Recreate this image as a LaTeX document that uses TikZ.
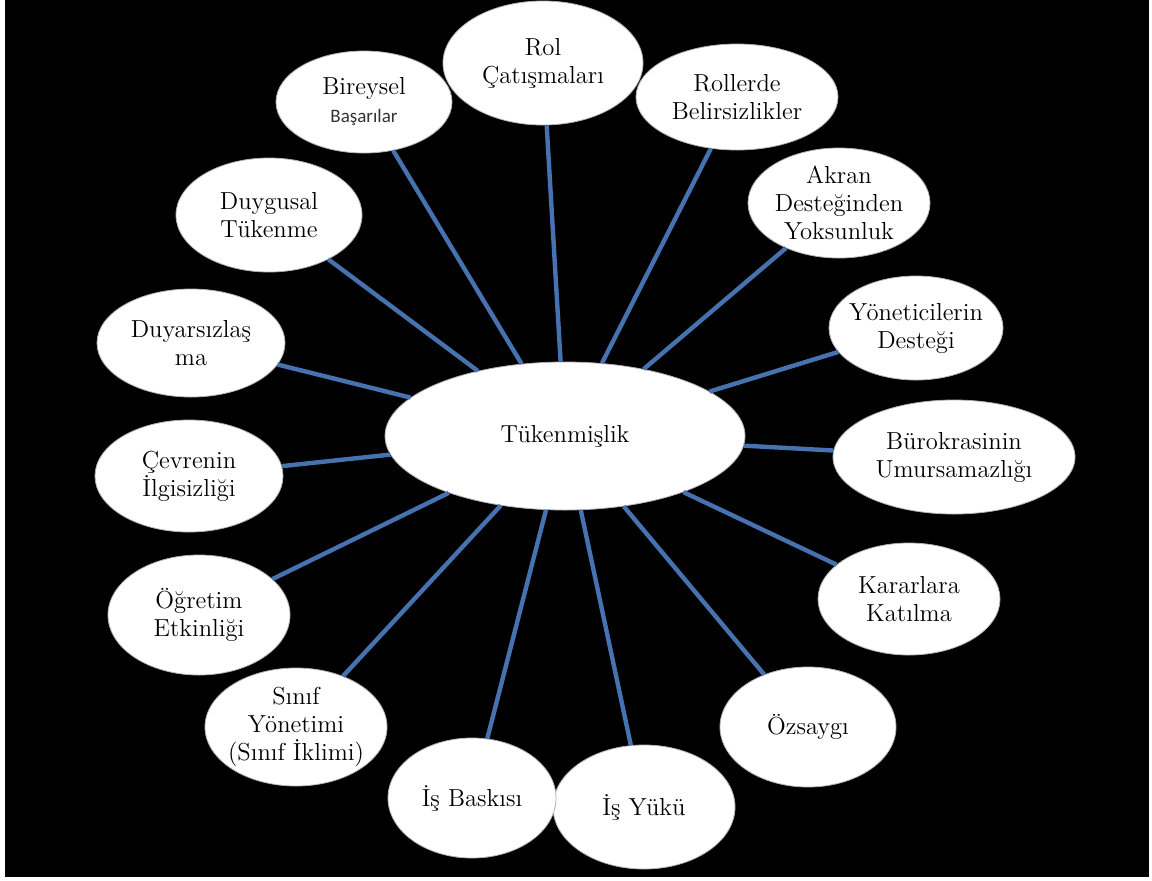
\documentclass[tikz,border=0pt]{standalone}
\usepackage{fontspec}
\newfontfamily\calibrifont{Carlito}
\usetikzlibrary{shapes}
\definecolor{spokeblue}{RGB}{70,114,176}
\tikzstyle{bubble} = [ellipse, fill=white, draw=gray!60, line width=0.4pt,
    inner sep=0pt, align=center, font=\fontsize{12.3}{14}\selectfont]
\tikzstyle{spoke} = [draw, spokeblue, line width=2.2pt]

\begin{document}
\begin{tikzpicture}[x=0.5pt, y=-0.5pt]
\useasboundingbox (0,0) rectangle (1152,880);
\fill[white] (0,0) rectangle (1152,880);
\fill[black] (5,0) rectangle (1149,877);
% outer ring
\node [bubble, minimum width=100pt, minimum height=62pt] (rol) at (543,63) {Rol\\Çatışmaları};
\node [bubble, minimum width=101pt, minimum height=53pt] (roller) at (737,97) {Rollerde\\Belirsizlikler};
\node [bubble, minimum width=88pt, minimum height=51pt] (bireysel) at (364,102) {Bireysel\\{\calibrifont\fontsize{9.5}{12}\selectfont\color{black!80}Başarılar}};
\node [bubble, minimum width=91pt, minimum height=55pt, inner xsep=-4pt] (akran) at (839,203) {Akran\\Desteğinden\\Yoksunluk};
\node [bubble, minimum width=93pt, minimum height=57pt] (duygusal) at (269,215) {Duygusal\\Tükenme};
\node [bubble, minimum width=87pt, minimum height=52pt, inner xsep=-5pt] (yonetici) at (916,328) {Yöneticilerin\\Desteği};
\node [bubble, minimum width=94pt, minimum height=54pt] (duyarsiz) at (191,343) {Duyarsızlaş\\ma};
\node [bubble, minimum width=121pt, minimum height=57pt] (burokrasi) at (954,457) {Bürokrasinin\\Umursamazlığı};
\node [bubble, minimum width=94pt, minimum height=56pt] (cevre) at (189,476) {Çevrenin\\İlgisizliği};
\node [bubble, minimum width=91pt, minimum height=56pt] (karar) at (909,599) {Kararlara\\Katılma};
\node [bubble, minimum width=91pt, minimum height=60pt] (ogretim) at (199,615) {Öğretim\\Etkinliği};
\node [bubble, minimum width=88pt, minimum height=60pt] (ozsaygi) at (808,727) {Özsaygı};
\node [bubble, minimum width=91pt, minimum height=59pt, inner xsep=-6pt] (sinif) at (296,727) {Sınıf\\Yönetimi\\(Sınıf İklimi)};
\node [bubble, minimum width=91pt, minimum height=62pt] (yuk) at (644,807) {İş Yükü};
\node [bubble, minimum width=84pt, minimum height=60pt] (baski) at (472,798) {İş Baskısı};
% centre
\node [bubble, minimum width=180pt, minimum height=74pt] (tuk) at (565,436) {Tükenmişlik};
% spokes
\path [spoke] (tuk) -- (rol);
\path [spoke] (tuk) -- (roller);
\path [spoke] (tuk) -- (bireysel);
\path [spoke] (tuk) -- (akran);
\path [spoke] (tuk) -- (duygusal);
\path [spoke] (tuk) -- (yonetici);
\path [spoke] (tuk) -- (duyarsiz);
\path [spoke] (tuk) -- (burokrasi);
\path [spoke] (tuk) -- (cevre);
\path [spoke] (tuk) -- (karar);
\path [spoke] (tuk) -- (ogretim);
\path [spoke] (tuk) -- (ozsaygi);
\path [spoke] (tuk) -- (sinif);
\path [spoke] (tuk) -- (baski);
\path [spoke] (tuk) -- (yuk);
\end{tikzpicture}
\end{document}
